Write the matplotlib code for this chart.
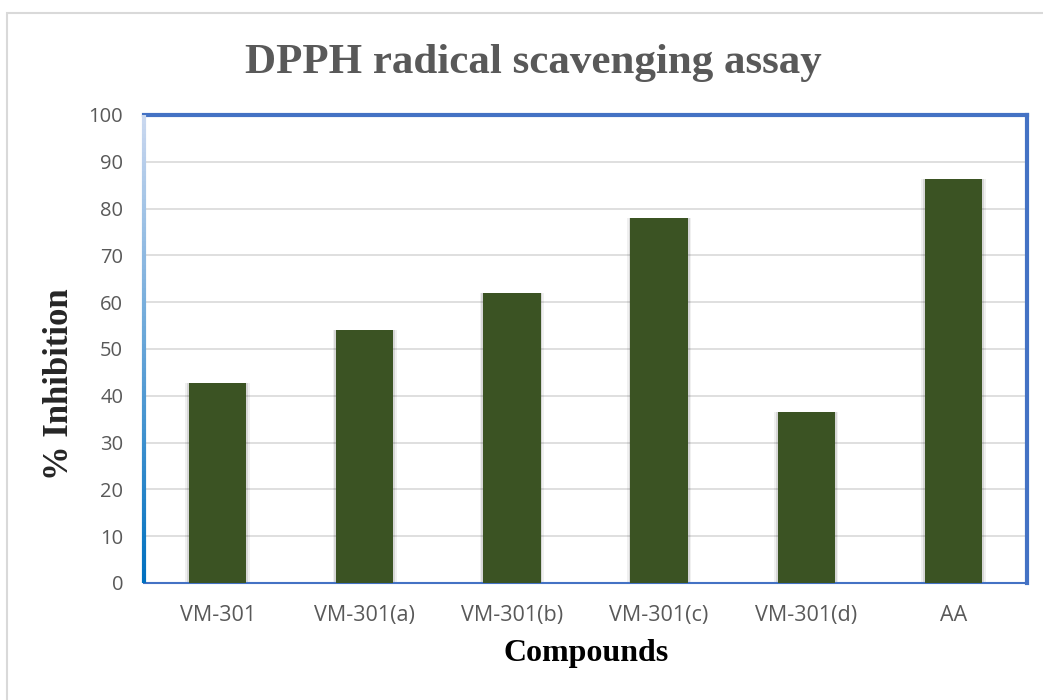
import numpy as np
import matplotlib.pyplot as plt
from matplotlib.collections import LineCollection
from matplotlib.patches import Rectangle

# Data
compounds = ['VM-301', 'VM-301(a)', 'VM-301(b)', 'VM-301(c)', 'VM-301(d)', 'AA']
inhibition = [42.8, 54.0, 62.0, 78.0, 36.6, 86.3]
y_ticks = [0, 10, 20, 30, 40, 50, 60, 70, 80, 90, 100]

bar_color = '#3B5323'
blue = '#4472C4'
gray_text = '#595959'

fig = plt.figure(figsize=(10.43, 7), dpi=100)

# outer chart border
fig.patches.append(Rectangle((7 / 1043, -0.1), 1.2, (700 - 13) / 700 + 0.1,
                             transform=fig.transFigure, fill=False,
                             edgecolor='#D9D9D9', linewidth=1.5))

ax = fig.add_axes([144 / 1043, 117 / 700, 883 / 1043, 468 / 700])

x = np.arange(len(compounds))
# soft shadow behind bars
for off, a in [(0.012, 0.10), (0.024, 0.06)]:
    ax.bar(x, inhibition, width=0.39 + 2 * off, color='black', alpha=a, zorder=2)
ax.bar(x, inhibition, width=0.39, color=bar_color, zorder=3)

ax.set_xlim(-0.5, len(compounds) - 0.5)
ax.set_ylim(0, 100)
ax.set_yticks(y_ticks)
ax.set_xticks(x)
ax.set_xticklabels(compounds)
ax.yaxis.grid(True, color='#D9D9D9', linewidth=1.2, zorder=0)
ax.set_axisbelow(True)
ax.tick_params(length=0, labelcolor=gray_text)
ax.tick_params(axis='y', pad=15, labelsize=14.5)
ax.tick_params(axis='x', pad=16, labelsize=15.5)
for lab in ax.get_xticklabels() + ax.get_yticklabels():
    lab.set_fontfamily('Open Sans')

for side in ['top', 'right']:
    ax.spines[side].set_color(blue)
    ax.spines[side].set_linewidth(3)
ax.spines['bottom'].set_color(blue)
ax.spines['bottom'].set_linewidth(1.5)
ax.spines['left'].set_visible(False)

# left spine with light-to-dark gradient
n = 100
ys = np.linspace(0, 1, n + 1)
segs = [[(0, ys[i]), (0, ys[i + 1])] for i in range(n)]
c_top = np.array([0.80, 0.85, 0.94])
c_bot = np.array([0.0, 0.44, 0.75])
cols = [c_bot + (c_top - c_bot) * (i / n) for i in range(n)]
lc = LineCollection(segs, colors=cols, linewidths=3, transform=ax.transAxes,
                    clip_on=False, zorder=5)
ax.add_collection(lc)

fig.text(0.511, 0.896, 'DPPH radical scavenging assay', ha='center', va='baseline',
         fontsize=31, fontweight='bold', color=gray_text, family='Liberation Serif')
fig.text(0.0575, 0.451, '% Inhibition', ha='center', va='center', rotation=90,
         fontsize=25, fontweight='bold', color='#262626', family='Liberation Serif')
fig.text(0.562, 0.055, 'Compounds', ha='center', va='baseline',
         fontsize=23, fontweight='bold', color='black', family='Liberation Serif')

fig.savefig('out.png', dpi=100)
